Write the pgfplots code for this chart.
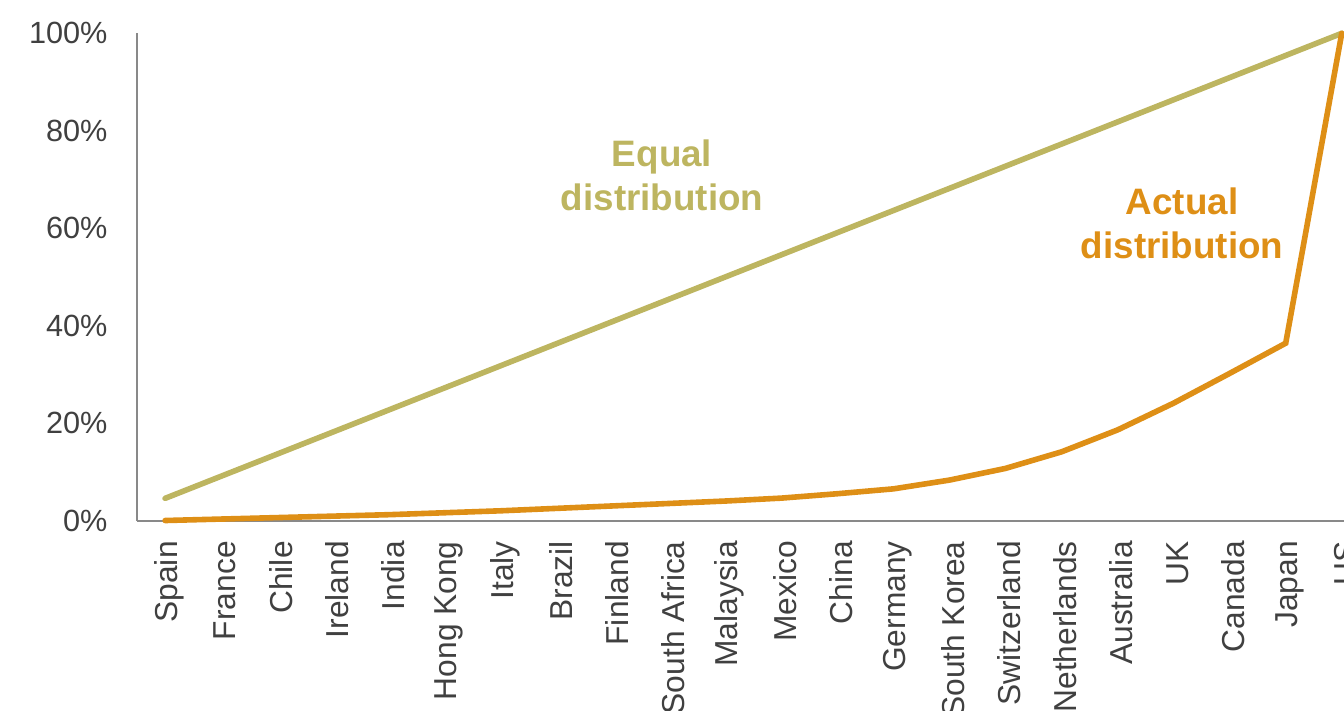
\documentclass[border=0pt]{standalone}
\usepackage{pgfplots}
\pgfplotsset{compat=1.18}
\usepackage{fontspec}
\setmainfont{Liberation Sans}
\definecolor{eqc}{HTML}{BDB560}
\definecolor{acc}{HTML}{DE8F16}
\definecolor{axc}{HTML}{898989}
\definecolor{txc}{HTML}{404040}
\begin{document}
\begin{tikzpicture}
\path[use as bounding box, clip] (-51.4pt,-71.4pt) rectangle (452.6pt,195.2pt);
\begin{axis}[
  at={(0pt,0pt)}, anchor=south west,
  scale only axis, width=452.6pt, height=182.7pt,
  xmin=-0.5, xmax=21.04, ymin=0, ymax=100,
  axis x line=bottom, axis y line=left,
  axis line style={-, draw=axc, line width=0.75pt},
  major tick length=0pt,
  xtick={0,...,21},
  xticklabels={Spain,France,Chile,Ireland,India,Hong Kong,Italy,Brazil,Finland,South Africa,Malaysia,Mexico,China,Germany,South Korea,Switzerland,Netherlands,Australia,UK,Canada,Japan,US},
  ytick={0,20,40,60,80,100},
  yticklabels={0\%,20\%,40\%,60\%,80\%,100\%},
  xticklabel style={rotate=90, anchor=east, inner sep=0pt, text=txc, font=\fontsize{11.9}{13}\selectfont, yshift=-1.4pt},
  yticklabel style={anchor=east, inner sep=0pt, text=txc, font=\fontsize{11.5}{13}\selectfont},
  xticklabel shift=7.6pt,
  yticklabel shift=10.9pt,
  clip=false,
]
\addplot[eqc, line width=2.1pt, line cap=round, line join=round] coordinates {
(0,4.545) (1,9.091) (2,13.636) (3,18.182) (4,22.727) (5,27.273) (6,31.818) (7,36.364) (8,40.909) (9,45.455) (10,50) (11,54.545) (12,59.091) (13,63.636) (14,68.182) (15,72.727) (16,77.273) (17,81.818) (18,86.364) (19,90.909) (20,95.455) (21,100)
};
\addplot[acc, line width=2.1pt, line cap=round, line join=miter] coordinates {
(0,0) (1,0.3) (2,0.6) (3,0.9) (4,1.2) (5,1.6) (6,2.0) (7,2.5) (8,3.0) (9,3.5) (10,4.0) (11,4.6) (12,5.5) (13,6.5) (14,8.3) (15,10.7) (16,14.1) (17,18.6) (18,24.1) (19,30.2) (20,36.4) (21,100)
};
\node[eqc, font=\bfseries\fontsize{13.8}{16.5}\selectfont, align=center] at (axis cs:8.87,70.9) {Equal\\distribution};
\node[acc, font=\bfseries\fontsize{13.8}{16.5}\selectfont, align=center] at (axis cs:18.15,61.0) {Actual\\distribution};
\end{axis}
\end{tikzpicture}
\end{document}
